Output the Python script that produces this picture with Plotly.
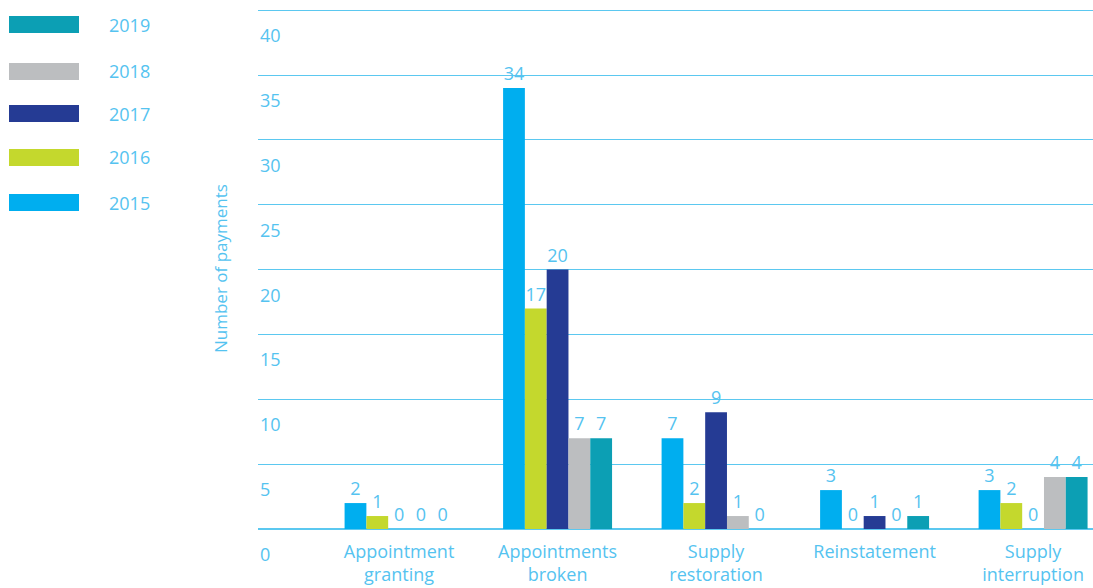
import plotly.graph_objects as go

categories = ["Appointment<br>granting", "Appointments<br>broken", "Supply<br>restoration",
              "Reinstatement", "Supply<br>interruption"]
years = ["2015", "2016", "2017", "2018", "2019"]
values = {
    "2015": [2, 34, 7, 3, 3],
    "2016": [1, 17, 2, 0, 2],
    "2017": [0, 20, 9, 1, 0],
    "2018": [0, 7, 1, 0, 4],
    "2019": [0, 7, 0, 1, 4],
}
colors = {"2015": "#00AEEF", "2016": "#C4D82D", "2017": "#253B94",
          "2018": "#BCBEC0", "2019": "#0C9FB4"}
y_ticks = [0, 5, 10, 15, 20, 25, 30, 35, 40]

TXT = "#55C3F0"
FONT = "Open Sans"

W, H = 1093, 588
L, R, T, B = 258, 0, 5, 59
pw, ph = W - L - R, H - T - B


def px_x(x):
    return (x - L) / pw


def px_y(y):
    return (H - B - y) / ph


fig = go.Figure()
for yr in years:
    fig.add_trace(go.Bar(
        x=list(range(len(categories))), y=values[yr], name=yr,
        marker=dict(color=colors[yr], line=dict(width=0)),
        text=[str(v) for v in values[yr]], textposition="outside",
        textfont=dict(color=TXT, size=18, family=FONT),
        cliponaxis=False, showlegend=False,
    ))

# y tick labels (shifted below their grid lines as in the reference)
for v in y_ticks:
    fig.add_annotation(xref="paper", yref="y", x=0, y=v, text=str(v),
                       showarrow=False, xanchor="left", yanchor="middle",
                       yshift=-25, font=dict(color=TXT, size=18, family=FONT))

# y axis title
fig.add_annotation(xref="paper", yref="paper", x=px_x(220), y=px_y(269),
                   text="Number of payments", textangle=-90, showarrow=False,
                   xanchor="center", yanchor="middle",
                   font=dict(color=TXT, size=17, family=FONT))

# legend (wide swatches)
legend_y = {"2019": 24.5, "2018": 71.5, "2017": 113.5, "2016": 157.5, "2015": 202.5}
for yr in ["2019", "2018", "2017", "2016", "2015"]:
    cy = legend_y[yr]
    fig.add_shape(type="rect", xref="paper", yref="paper",
                  x0=px_x(9), x1=px_x(79), y0=px_y(cy + 8.5), y1=px_y(cy - 8.5),
                  fillcolor=colors[yr], line=dict(width=0), layer="above")
    fig.add_annotation(xref="paper", yref="paper", x=px_x(107), y=px_y(cy),
                       text=yr, showarrow=False, xanchor="left", yanchor="middle",
                       font=dict(color=TXT, size=18, family=FONT))

fig.update_layout(
    width=W, height=H,
    margin=dict(l=L, r=R, t=T, b=B, pad=0),
    paper_bgcolor="white", plot_bgcolor="white",
    barmode="group", bargap=0.3125, bargroupgap=0,
    font=dict(family=FONT, color=TXT, size=18),
    showlegend=False,
)
fig.update_xaxes(
    tickmode="array", tickvals=list(range(len(categories))), ticktext=categories,
    range=[-0.89, 4.378], showgrid=False, zeroline=False, showline=False,
    ticks="", ticklabelstandoff=10,
    tickfont=dict(color=TXT, size=18, family=FONT), fixedrange=True,
)
fig.update_yaxes(
    range=[0, 40.4], tickmode="array", tickvals=y_ticks, showticklabels=False,
    showgrid=True, gridcolor="#5BC8F0", gridwidth=1.3,
    zeroline=True, zerolinecolor="#5BC8F0", zerolinewidth=1.5, showline=False,
    fixedrange=True,
)

fig.write_html("out.html", config={"displayModeBar": False},
               post_script="document.body.style.margin='0';")
